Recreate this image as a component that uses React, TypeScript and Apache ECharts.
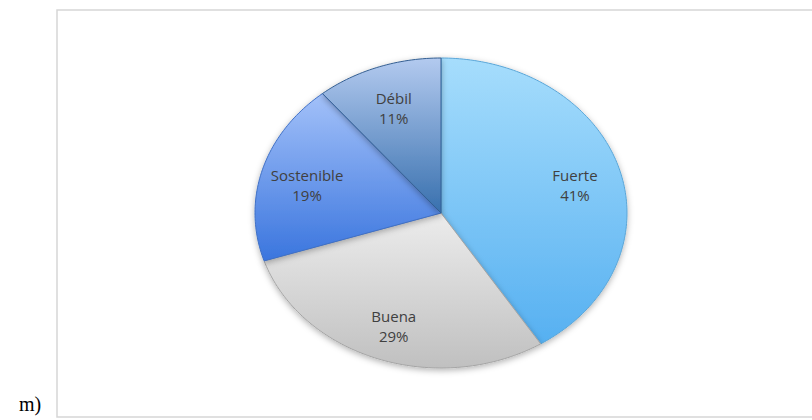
import React, { useEffect, useRef } from "react";
import * as echarts from "echarts";

const categories = ["Fuerte", "Buena", "Sostenible", "Débil"];
const values = [41, 29, 19, 11];
const topColors = ["#a6ddfc", "#ececec", "#a3c1f9", "#b3caef"];
const bottomColors = ["#56b0f1", "#c0c0c0", "#3a75de", "#3870ae"];
const edgeColors = ["#5aa6d8", "#a5a5a5", "#3f70c6", "#345f92"];
const panelLabel = "m)";

export default function App() {
  const ref = useRef<HTMLDivElement>(null);
  useEffect(() => {
    if (!ref.current) return;
    const chart = echarts.init(ref.current, undefined, { renderer: "svg" });
    const total = values.reduce((a, b) => a + b, 0);
    const cx = 441;
    const cy = 213;
    const rx = 186;
    const ry = 155;
    const labelFactor = 0.75;
    const labelShiftY = 4;

    const renderItem = (params: any, api: any) => {
      const i = params.dataIndex;
      const v = api.value(0);
      let before = 0;
      for (let k = 0; k < i; k++) before += values[k];
      const a0 = (before / total) * Math.PI * 2;
      const a1 = ((before + v) / total) * Math.PI * 2;
      const pts: number[][] = [[cx, cy]];
      const steps = Math.max(8, Math.ceil((a1 - a0) / 0.02));
      for (let s = 0; s <= steps; s++) {
        const t = a0 + ((a1 - a0) * s) / steps;
        pts.push([cx + rx * Math.sin(t), cy - ry * Math.cos(t)]);
      }
      const am = (a0 + a1) / 2;
      const lx = cx + rx * labelFactor * Math.sin(am);
      const ly = cy + labelShiftY - ry * labelFactor * Math.cos(am);
      return {
        type: "group",
        children: [
          {
            type: "polygon",
            shape: { points: pts },
            style: {
              fill: {
                type: "linear",
                x: 0,
                y: 0,
                x2: 0,
                y2: 1,
                colorStops: [
                  { offset: 0, color: topColors[i] },
                  { offset: 1, color: bottomColors[i] },
                ],
              },
              stroke: edgeColors[i],
              lineWidth: 1,
              shadowBlur: 6,
              shadowOffsetY: 2,
              shadowColor: "rgba(0,0,0,0.3)",
            },
          },
          {
            type: "text",
            x: lx,
            y: ly,
            style: {
              text: categories[i] + "\n" + v + "%",
              fill: "#404040",
              font: '15px "Open Sans"',
              align: "center",
              verticalAlign: "middle",
              lineHeight: 20,
            },
          },
        ],
      };
    };

    chart.setOption({
      animation: false,
      graphic: [
        {
          type: "rect",
          shape: { x: 57, y: 10, width: 800, height: 407 },
          style: { fill: "none", stroke: "#d6d6d6", lineWidth: 1.5 },
          z: 0,
        },
        {
          type: "text",
          x: 19,
          y: 414,
          style: {
            text: panelLabel,
            fill: "#000",
            font: '20px "Liberation Serif"',
            verticalAlign: "bottom",
          },
        },
      ],
      series: [
        {
          type: "custom",
          coordinateSystem: "none",
          renderItem,
          data: values.map((v) => [v]),
          z: 2,
        },
      ],
    });
    return () => chart.dispose();
  }, []);
  return (
    <div
      ref={ref}
      style={{ position: "fixed", left: 0, top: 0, width: 812, height: 420, background: "#fff" }}
    />
  );
}
